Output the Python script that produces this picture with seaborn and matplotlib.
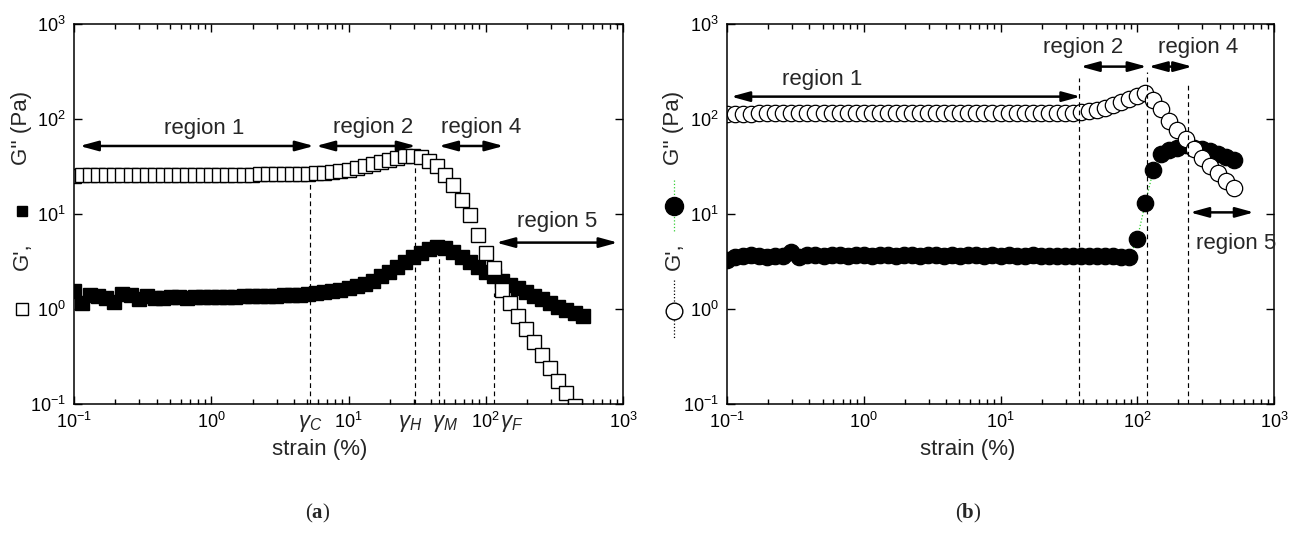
import pandas as pd
import seaborn as sns
import matplotlib.pyplot as plt
from matplotlib.lines import Line2D
from matplotlib.ticker import LogLocator, NullLocator

# strain grid (%) shared by both sweeps
strain = [0.1, 0.1145, 0.1311, 0.1501, 0.1719, 0.1968, 0.2254, 0.2581, 0.2955, 0.3384, 0.3875, 0.4437, 0.508, 0.5817, 0.6661, 0.7627, 0.8733,
          1.0, 1.145, 1.311, 1.501, 1.719, 1.968, 2.254, 2.581, 2.955, 3.384, 3.875, 4.437, 5.08, 5.817, 6.661, 7.627, 8.733,
          10.0, 11.45, 13.11, 15.01, 17.19, 19.68, 22.54, 25.81, 29.55, 33.84, 38.75, 44.37, 50.8, 58.17, 66.61, 76.27, 87.33,
          100.0, 114.5, 131.1, 150.1, 171.9, 196.8, 225.4, 258.1, 295.5, 338.4, 387.5, 443.7, 508.0]

# (a) open squares G', filled squares G''
a_storage = [25.4, 25.6, 25.5, 25.6, 25.6, 25.6, 25.7, 25.7, 25.7, 25.7, 25.8, 25.8, 25.8, 25.8, 25.9, 25.9, 25.9,
             25.9, 25.9, 26.0, 26.0, 26.0, 26.0, 26.1, 26.1, 26.2, 26.2, 26.3, 26.3, 26.4, 26.8, 27.2, 27.7, 28.4,
             29.3, 30.6, 32.0, 33.6, 35.3, 37.1, 38.9, 40.3, 41.0, 40.0, 36.5, 32.0, 26.0, 20.2, 14.0, 9.8, 6.0,
             3.9, 2.7, 1.6, 1.15, 0.85, 0.62, 0.45, 0.33, 0.24, 0.175, 0.13, 0.095, 0.07]
a_loss = [1.55, 1.15, 1.40, 1.38, 1.30, 1.18, 1.44, 1.40, 1.27, 1.36, 1.32, 1.30, 1.33, 1.33, 1.32, 1.33, 1.34,
          1.34, 1.35, 1.35, 1.35, 1.36, 1.36, 1.37, 1.38, 1.38, 1.39, 1.40, 1.41, 1.43, 1.46, 1.50, 1.55, 1.60,
          1.66, 1.74, 1.84, 1.98, 2.20, 2.45, 2.75, 3.10, 3.50, 3.90, 4.25, 4.45, 4.35, 3.95, 3.50, 3.10, 2.75,
          2.45, 2.20, 1.98, 1.80, 1.65, 1.50, 1.38, 1.26, 1.15, 1.06, 0.98, 0.91, 0.85]

# (b) open circles G', filled circles G''
b_storage = [112, 113, 114, 114, 115, 115, 115, 116, 115, 116, 116, 116, 116, 116, 116, 116, 116,
             116, 116, 116, 116, 116, 116, 116, 116, 116, 116, 117, 117, 117, 117, 117, 117, 117,
             117, 117, 117, 117, 117, 117, 117, 117, 117, 117, 118, 120, 124, 130, 139, 150, 163,
             176, 186, 160, 126, 96, 77, 61, 48, 39, 32, 27, 22.5, 18.6]
b_loss = [3.3, 3.5, 3.6, 3.7, 3.6, 3.5, 3.6, 3.6, 3.95, 3.5, 3.7, 3.7, 3.6, 3.7, 3.7, 3.6, 3.7,
          3.7, 3.6, 3.7, 3.7, 3.6, 3.7, 3.7, 3.6, 3.7, 3.7, 3.6, 3.7, 3.6, 3.7, 3.7, 3.6, 3.7,
          3.6, 3.7, 3.6, 3.6, 3.7, 3.6, 3.6, 3.6, 3.6, 3.6, 3.6, 3.6, 3.6, 3.6, 3.6, 3.55, 3.5,
          5.5, 13.0, 29.0, 43.0, 47.0, 50.0, 53.0, 50.0, 48.0, 46.0, 43.0, 40.0, 37.0]

# critical strains and where their dashed lines stop
a_gamma_names = [r'$\gamma_C$', r'$\gamma_H$', r'$\gamma_M$', r'$\gamma_F$']
a_gamma = [5.2, 30.6, 45.4, 115]
a_gamma_top = [22, 33, 3.55, 1.48]
a_gamma_label_x = [5.3, 28.0, 50.5, 155]
b_gamma = [37.7, 117, 235]
b_gamma_top = [268, 315, 247]

# regions: (label, arrow from, arrow to, arrow y, text x, text y)
a_regions = [('region 1', 0.11, 5.6, 52, 0.885, 80),
             ('region 2', 5.8, 31, 52, 15.1, 82),
             ('region 4', 45.5, 135, 52, 93, 82),
             ('region 5', 119, 916, 5.0, 330, 8.3)]
b_regions = [('region 1', 0.107, 38.5, 172, 0.495, 258),
             ('region 2', 38.5, 117.5, 356, 40.4, 566),
             ('region 4', 121, 253, 356, 280, 566),
             ('region 5', 243, 714, 10.4, 527, 4.95)]

sns.set_style("ticks")
plt.rcParams['font.family'] = ['Liberation Sans', 'DejaVu Sans']
plt.rcParams['mathtext.fontset'] = 'custom'
plt.rcParams['mathtext.rm'] = 'Liberation Sans'
plt.rcParams['mathtext.it'] = 'Liberation Sans:italic'
plt.rcParams['mathtext.bf'] = 'Liberation Serif:bold'
plt.rcParams['axes.unicode_minus'] = False

W, H = 1289, 536
fig = plt.figure(figsize=(W / 100, H / 100), dpi=100)
ax_a = fig.add_axes([74 / W, 132 / H, 549 / W, 380 / H])
ax_b = fig.add_axes([727 / W, 132 / H, 547 / W, 380 / H])

df_a = pd.DataFrame({'strain': strain, 'storage': a_storage, 'loss': a_loss})
df_b = pd.DataFrame({'strain': strain, 'storage': b_storage, 'loss': b_loss})

for ax in (ax_a, ax_b):
    ax.set_xscale('log')
    ax.set_yscale('log')

# panel (a): squares, no connecting lines
sns.lineplot(data=df_a, x='strain', y='loss', ax=ax_a, color='black', ls='',
             marker='s', markersize=10.3, markerfacecolor='black',
             markeredgecolor='black', markeredgewidth=1.0)
sns.lineplot(data=df_a, x='strain', y='storage', ax=ax_a, color='black', ls='',
             marker='s', markersize=10.3, markerfacecolor='white',
             markeredgecolor='black', markeredgewidth=1.0)

# panel (b): circles with dotted lines
sns.lineplot(data=df_b, x='strain', y='loss', ax=ax_b, color='#33cc33', ls=':', lw=0.9,
             marker='o', markersize=11.8, markerfacecolor='black',
             markeredgecolor='black', markeredgewidth=0.9)
sns.lineplot(data=df_b, x='strain', y='storage', ax=ax_b, color='black', ls=':', lw=0.9,
             marker='o', markersize=11.8, markerfacecolor='white',
             markeredgecolor='black', markeredgewidth=0.9)

for ax in (ax_a, ax_b):
    ax.set_xlim(0.1, 1000)
    ax.set_ylim(0.1, 1000)
    ax.xaxis.set_minor_locator(LogLocator(base=10, subs=(2, 3, 4, 5, 6, 7, 8, 9)))
    ax.yaxis.set_minor_locator(NullLocator())
    ax.tick_params(which='both', direction='in', top=True, right=True, width=1.0, colors='black')
    ax.tick_params(which='major', length=6, labelsize=13, pad=6)
    ax.tick_params(which='minor', length=3.5)
    for sp in ax.spines.values():
        sp.set_linewidth(1.1)
        sp.set_color('black')
    ax.set_xlabel('')
    ax.set_ylabel('')

# dashed guide lines
ax_a.vlines(a_gamma, 0.1, a_gamma_top, colors='black', linestyles=(0, (4, 3)), lw=0.85)
ax_b.vlines(b_gamma, 0.1, b_gamma_top, colors='black', linestyles=(0, (4, 3)), lw=0.85)
for name, gx in zip(a_gamma_names, a_gamma_label_x):
    ax_a.text(gx, -0.024, name, transform=ax_a.get_xaxis_transform(), ha='center', va='top', fontsize=16)

# region arrows and labels
for ax, regions in ((ax_a, a_regions), (ax_b, b_regions)):
    for name, x0, x1, y, tx, ty in regions:
        ax.annotate('', xy=(x1, y), xytext=(x0, y),
                    arrowprops=dict(arrowstyle='<|-|>,head_length=1.1,head_width=0.3',
                                    mutation_scale=10, lw=1.8, color='black',
                                    shrinkA=0, shrinkB=0), annotation_clip=False)
        ax.text(tx, ty, name, ha='center', va='center', fontsize=16, clip_on=False)

# axis titles
for xc in (320, 968):
    fig.text(xc / W, 1 - 449 / H, 'strain (%)', ha='center', va='center', fontsize=16)

for xc in (22, 674):
    fig.text(xc / W, 1 - 128 / H, "G'' (Pa)", rotation=90, ha='center', va='center', fontsize=16)
    fig.text(xc / W, 1 - 256 / H, "G',", rotation=90, ha='center', va='center', fontsize=16)

# legend-like symbols inside the y titles
fig.add_artist(Line2D([22 / W], [1 - 211 / H], transform=fig.transFigure, ls='',
                      marker='s', markersize=7.5, color='black'))
fig.add_artist(Line2D([22 / W], [1 - 309 / H], transform=fig.transFigure, ls='',
                      marker='s', markersize=8.5, markerfacecolor='white',
                      markeredgecolor='black', markeredgewidth=1.0))
fig.add_artist(Line2D([674 / W, 674 / W, 674 / W], [1 - 180 / H, 1 - 206 / H, 1 - 233 / H],
                      transform=fig.transFigure, ls=':', lw=0.9, color='#33cc33',
                      marker='o', markevery=[1], markersize=13, markerfacecolor='black',
                      markeredgecolor='black'))
fig.add_artist(Line2D([674 / W, 674 / W, 674 / W], [1 - 280 / H, 1 - 311 / H, 1 - 338 / H],
                      transform=fig.transFigure, ls=':', lw=0.9, color='black',
                      marker='o', markevery=[1], markersize=12, markerfacecolor='white',
                      markeredgecolor='black', markeredgewidth=1.0))

# subfigure tags
fig.text(318 / W, 1 - 513 / H, r'($\mathbf{a}$)', family='Liberation Serif', ha='center', va='center', fontsize=15)
fig.text(968 / W, 1 - 513 / H, r'($\mathbf{b}$)', family='Liberation Serif', ha='center', va='center', fontsize=15)

fig.savefig('out.png', dpi=100)
